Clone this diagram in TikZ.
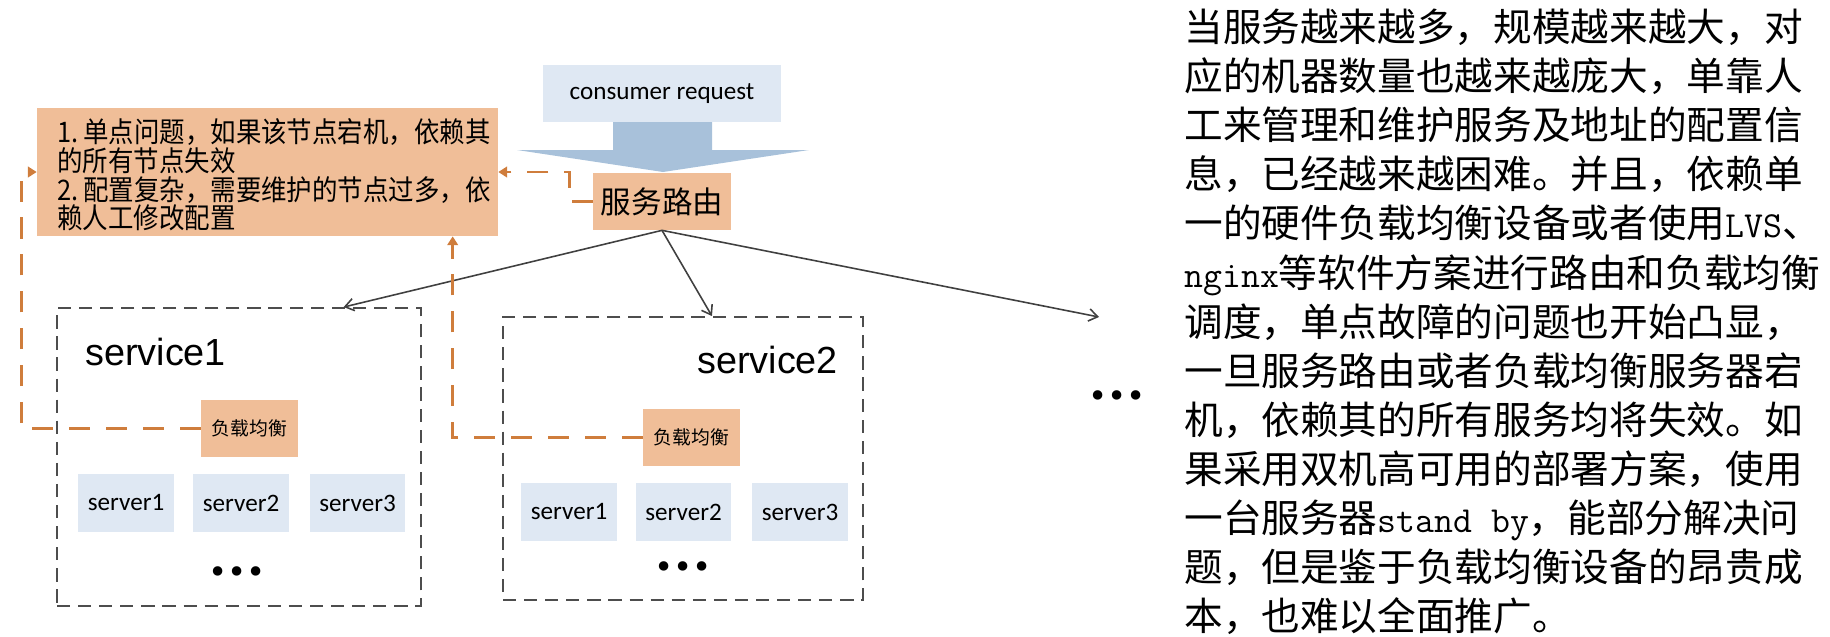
\documentclass[tikz,border=0pt]{standalone}
\usepackage{fontspec}
\newfontfamily\cjk{Noto Sans CJK SC}
\newfontfamily\cjknarrow[FakeStretch=0.9]{Noto Sans CJK SC}
\newfontfamily\cali{Carlito}
\newfontfamily\ari{Liberation Sans}
\newfontfamily\dvs{DejaVu Sans}
\usetikzlibrary{arrows.meta,calc}
\definecolor{peach}{HTML}{F0BE98}
\definecolor{lblue}{HTML}{DFE8F3}
\definecolor{arrowblue}{HTML}{A8C1DA}
\definecolor{orng}{HTML}{CF7D3C}
\definecolor{dgray}{HTML}{4D4D4D}
\definecolor{lgray}{HTML}{404040}
\newcommand{\mymono}[1]{{\ttfamily\fontsize{20.9}{27.9}\selectfont #1}}
\tikzset{
  peachbox/.style={fill=peach, inner sep=0pt, font=\cjk},
  bluebox/.style={fill=lblue, inner sep=0pt, font=\cali\fontsize{14.3}{16}\selectfont},
  srvbox/.style={bluebox, minimum width=1.92cm, minimum height=1.16cm},
  lbbox/.style={peachbox, font=\cjk\fontsize{10.7}{12}\selectfont, minimum width=1.94cm, minimum height=1.14cm},
  svcbox/.style={draw=dgray, line width=1.1pt, dash pattern=on 7.5pt off 4.5pt, inner sep=0pt},
  svclabel/.style={anchor=base west, inner sep=0pt, font=\ari\fontsize{21.5}{24}\selectfont},
  odash/.style={draw=orng, line width=1.6pt, dash pattern=on 12pt off 9pt, -{Triangle[length=5pt,width=6pt]}},
  link/.style={draw=lgray, line width=0.9pt, -{Straight Barb[length=5pt,width=7pt]}},
  dotsnode/.style={inner sep=0pt, font=\dvs\fontsize{18.5}{20}\selectfont}
}
\begin{document}
\begin{tikzpicture}[x=0.02cm,y=-0.02cm]
\useasboundingbox (0,0) rectangle (1830,636);

% note box
\node[peachbox, minimum width=9.22cm, minimum height=2.56cm] (note) at (267.5,172) {};
\node[anchor=west, align=left, inner sep=0pt, font=\cjknarrow\fontsize{16.1}{16.3}\selectfont] (notetxt) at (57,175)
  {1.\,单点问题，如果该节点宕机，依赖其\\的所有节点失效\\2.\,配置复杂，需要维护的节点过多，依\\赖人工修改配置};

% consumer request and big arrow
\node[bluebox, minimum width=4.76cm, minimum height=1.14cm] (cr) at (662,93.5) {consumer request};
\fill[arrowblue] (613,122) -- (712,122) -- (712,150) -- (809,150) -- (663,172) -- (517,150) -- (613,150) -- cycle;

% router
\node[peachbox, font=\cjk\fontsize{17.4}{20}\selectfont, minimum width=2.76cm, minimum height=1.14cm] (fw) at (662,201.5) {服务路由};

% services
\node[svcbox, minimum width=7.28cm, minimum height=5.96cm] (s1) at (239,457) {};
\node[svcbox, minimum width=7.2cm, minimum height=5.66cm] (s2) at (683,458.5) {};
\node[svclabel] (s1lab) at (85,365) {service1};
\node[svclabel] (s2lab) at (697,373) {service2};

\node[lbbox] (lb1) at (249.5,428.5) {负载均衡};
\node[lbbox] (lb2) at (691.5,437.5) {负载均衡};

\node[srvbox] (a1) at (126,503) {server1};
\node[srvbox] (a2) at (241,503) {server2};
\node[srvbox] (a3) at (357.5,503) {server3};
\node[srvbox] (b1) at (569,512) {server1};
\node[srvbox] (b2) at (683.5,512) {server2};
\node[srvbox] (b3) at (800,512) {server3};

\node[dotsnode] (d1) at (237,575) {•••};
\node[dotsnode] (d2) at (683,570) {•••};
\node[dotsnode] (d3) at (1117,399) {•••};

% connectors from router
\coordinate (t1) at ($(s1.north west)!0.786!(s1.north east)$);
\coordinate (t2) at ($(s2.north west)!0.58!(s2.north east)$);
\coordinate (t3) at (1099,317);
\draw[link] (fw.south) -- (t1);
\draw[link] (fw.south) -- (t2);
\draw[link] (fw.south) -- (t3);

% orange dependency lines
\draw[odash] (fw.west) -- ++(-23,0) |- (note.east);
\draw[odash] (lb1.west) -- ++(-179,0) |- (note.west);
\draw[odash] (lb2.west) -| ($(note.south west)+(416,0)$);

% paragraph
\node[anchor=north west, align=left, inner sep=0pt, font=\cjk\fontsize{22}{27.9}\selectfont] (para) at (1184,9)
{当服务越来越多，规模越来越大，对\\
应的机器数量也越来越庞大，单靠人\\
工来管理和维护服务及地址的配置信\\
息，已经越来越困难。并且，依赖单\\
一的硬件负载均衡设备或者使用\mymono{LVS}、\\
\mymono{nginx}等软件方案进行路由和负载均衡\\
调度，单点故障的问题也开始凸显，\\
一旦服务路由或者负载均衡服务器宕\\
机，依赖其的所有服务均将失效。如\\
果采用双机高可用的部署方案，使用\\
一台服务器\mymono{stand by}，能部分解决问\\
题，但是鉴于负载均衡设备的昂贵成\\
本，也难以全面推广。};
\end{tikzpicture}
\end{document}
